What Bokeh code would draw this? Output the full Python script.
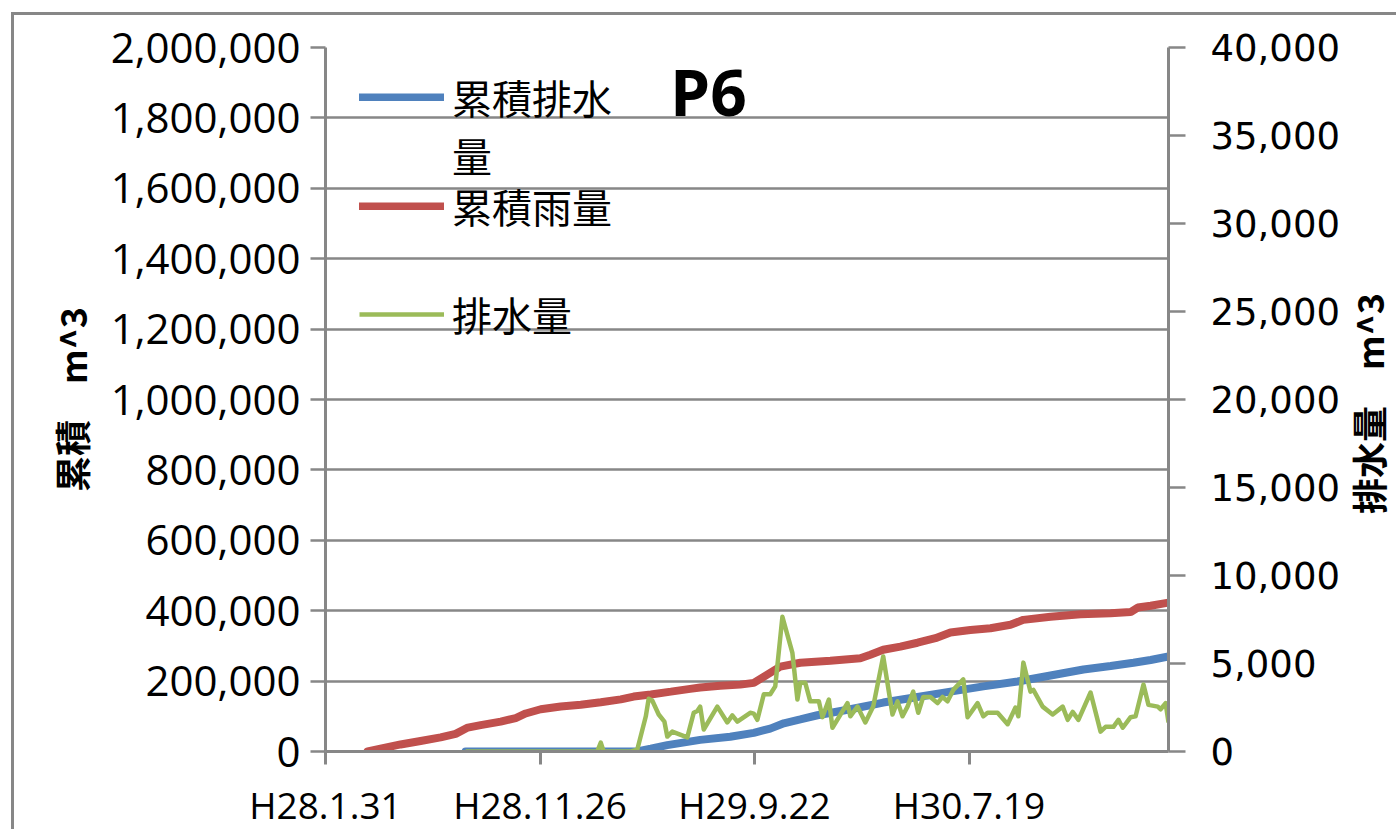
import math
import pandas as pd
from bokeh.plotting import figure
from bokeh.models import (Range1d, LinearAxis, FixedTicker, SingleIntervalTicker,
                          NumeralTickFormatter, Legend, LegendItem, Label)
from bokeh.embed import file_html
from bokeh.resources import INLINE

# Day counts are measured from H28.1.31 (2016-01-31)
BASE_DATE = "2016-01-31"

# 累積雨量 (cumulative rainfall, m^3)
rain_days = [59, 77, 105, 133, 161, 182, 199, 217, 245, 266,
             280, 301, 329, 357, 385, 413, 431, 455, 483, 510,
             524, 552, 580, 599, 615, 636, 664, 706, 748, 762,
             780, 804, 828, 853, 874, 902, 930, 958, 976, 1014,
             1056, 1098, 1126, 1136, 1154, 1179]
rain_cum = [0, 8000, 20000, 30000, 40000, 50000, 68000, 75000, 85000, 95000,
            108000, 120000, 128000, 133000, 140000, 148000, 156000, 162000, 170000, 178000,
            182000, 187000, 190000, 195000, 215000, 241000, 252000, 258000, 265000, 275000,
            289000, 298000, 309000, 322000, 338000, 345000, 350000, 360000, 374000, 383000,
            390000, 393000, 396000, 409000, 414000, 423000]

# 累積排水量 (cumulative drainage, m^3)
drain_cum_days = [196, 436, 455, 478, 524, 566, 599, 622, 641, 664,
                  688, 734, 780, 828, 874, 920, 968, 1014, 1060, 1098,
                  1130, 1154, 1179]
drain_cum = [0, 0, 8000, 18000, 33000, 42000, 53000, 65000, 80000, 91000,
             103000, 120000, 139000, 155000, 170000, 185000, 199000, 216000, 233000, 243000,
             252000, 260000, 270000]

# 排水量 (drainage per period, m^3, right axis)
drain_days = [196, 380, 385, 389, 427, 436, 448, 452, 457, 466,
              474, 478, 485, 506, 515, 520, 524, 529, 548, 562,
              569, 576, 594, 599, 604, 613, 622, 629, 639, 653,
              660, 664, 671, 678, 690, 695, 704, 709, 730, 734,
              744, 755, 766, 780, 793, 800, 807, 814, 822, 829,
              836, 846, 856, 863, 870, 878, 892, 898, 912, 920,
              926, 940, 954, 965, 969, 976, 986, 990, 1003, 1017,
              1031, 1038, 1045, 1053, 1070, 1084, 1091, 1102, 1109, 1115,
              1126, 1133, 1144, 1151, 1164, 1168, 1175, 1179]
drain = [0, 0, 500, 0, 0, 100, 2000, 3000, 2900, 2100,
         1700, 850, 1130, 800, 2200, 2300, 2550, 1250, 2550, 1650,
         2050, 1700, 2200, 2150, 1800, 3250, 3250, 3700, 7650, 5600,
         2950, 3900, 3900, 2850, 2850, 1950, 2950, 1350, 2750, 2000,
         2550, 1650, 2550, 5400, 2100, 2850, 2000, 2550, 3400, 2200,
         3100, 3100, 2750, 3100, 2850, 3500, 4100, 1950, 2750, 2000,
         2200, 2200, 1550, 2500, 2000, 5050, 3400, 3500, 2550, 2100,
         2550, 1800, 2250, 1800, 3350, 1130, 1400, 1400, 1800, 1350,
         1950, 2000, 3800, 2650, 2550, 2400, 2750, 1650]

tick_dates = ["2016-01-31", "2016-11-26", "2017-09-22", "2018-07-19"]
tick_labels = ["H28.1.31", "H28.11.26", "H29.9.22", "H30.7.19"]

EPOCH = pd.Timestamp("1970-01-01")
MS = pd.Timedelta(milliseconds=1)


def days_to_ms(days):
    t = pd.Timestamp(BASE_DATE) + pd.to_timedelta(days, unit="D")
    return [int(v) for v in (t - EPOCH) // MS]


def dates_to_ms(dates):
    return [int(v) for v in (pd.to_datetime(dates) - EPOCH) // MS]


rain_x = days_to_ms(rain_days)
drain_cum_x = days_to_ms(drain_cum_days)
drain_x = days_to_ms(drain_days)
tick_x = dates_to_ms(tick_dates)

GREY = "#878787"
BLUE = "#4F81BD"
RED = "#C0504D"
GREEN = "#9BBB59"
NUM_FONT = "Open Sans"
CJK_FONT = "Noto Sans CJK JP"

p = figure(width=1385, height=817, output_backend="svg", toolbar_location=None,
           x_range=Range1d(dates_to_ms([BASE_DATE])[0], max(rain_x)),
           y_range=Range1d(0, 2_000_000),
           min_border_left=311, min_border_right=231,
           min_border_top=32, min_border_bottom=80)
p.outline_line_color = None
p.background_fill_color = "white"
p.border_fill_color = "white"
# chart-area border along the top and left edges
p.styles = {"margin-left": "11px", "margin-top": "12px",
            "border-left": f"3px solid {GREY}", "border-top": f"3px solid {GREY}"}

p.extra_y_ranges = {"flow": Range1d(0, 40_000)}

# horizontal gridlines only
p.xgrid.visible = False
p.ygrid.grid_line_color = GREY
p.ygrid.grid_line_width = 2.5

# bottom date axis
xa = p.xaxis[0]
xa.ticker = FixedTicker(ticks=tick_x)
xa.major_label_overrides = dict(zip(tick_x, tick_labels))
xa.axis_line_color = GREY
xa.axis_line_width = 3
xa.major_tick_line_color = GREY
xa.major_tick_line_width = 3
xa.major_tick_out = 13
xa.major_tick_in = 0
xa.minor_tick_line_color = None
xa.major_label_standoff = 14
xa.major_label_text_font = NUM_FONT
xa.major_label_text_font_size = "37px"
xa.major_label_text_color = "black"

# left axis: cumulative volumes
ya = p.yaxis[0]
ya.ticker = SingleIntervalTicker(interval=200_000)
ya.formatter = NumeralTickFormatter(format="0,0")
ya.axis_line_color = GREY
ya.axis_line_width = 3
ya.major_tick_line_color = GREY
ya.major_tick_line_width = 2.5
ya.major_tick_out = 15
ya.major_tick_in = 0
ya.minor_tick_line_color = None
ya.major_label_standoff = 10
ya.major_label_text_font = NUM_FONT
ya.major_label_text_font_size = "42px"
ya.major_label_text_color = "black"
ya.axis_label = "累積　m^3"
ya.axis_label_text_font = CJK_FONT
ya.axis_label_text_font_style = "bold"
ya.axis_label_text_font_size = "36px"
ya.axis_label_text_color = "black"
ya.axis_label_standoff = 11

# right axis: drainage
ra = LinearAxis(y_range_name="flow", ticker=SingleIntervalTicker(interval=5_000),
                formatter=NumeralTickFormatter(format="0,0"))
ra.axis_line_color = GREY
ra.axis_line_width = 3
ra.major_tick_line_color = GREY
ra.major_tick_line_width = 2.5
ra.major_tick_out = 17
ra.major_tick_in = 0
ra.minor_tick_line_color = None
ra.major_label_standoff = 25
ra.major_label_text_font = "DejaVu Sans"
ra.major_label_text_font_size = "37px"
ra.major_label_text_color = "black"
p.add_layout(ra, "right")

# right-axis title, reading bottom to top like the left one
p.add_layout(Label(x=1350, y=385, x_units="canvas", y_units="canvas",
                   text="排水量　m^3", angle=math.pi / 2,
                   text_font=CJK_FONT, text_font_style="bold", text_font_size="36px",
                   text_align="center", text_baseline="middle", text_color="black"),
             "right")

r_drain_cum = p.line(drain_cum_x, drain_cum, line_color=BLUE, line_width=8, line_cap="round")
r_rain = p.line(rain_x, rain_cum, line_color=RED, line_width=8, line_cap="round")
r_drain = p.line(drain_x, drain, y_range_name="flow", line_color=GREEN, line_width=4.5,
                 line_join="round")

# one legend block per series so each entry sits at its own height
legend_entries = [("\n累積排水\n量", r_drain_cum, 564),
                  ("累積雨量", r_rain, 455),
                  ("排水量", r_drain, 347)]
for label, renderer, bottom in legend_entries:
    p.add_layout(Legend(items=[LegendItem(label=label, renderers=[renderer])],
                        location=(34, bottom), orientation="vertical",
                        background_fill_alpha=0, border_line_alpha=0,
                        label_text_font=CJK_FONT, label_text_font_size="40px",
                        label_text_color="black", label_text_line_height=1.07,
                        glyph_width=85, glyph_height=8, label_standoff=8,
                        label_height=180, spacing=0, padding=0, margin=0))

title = Label(x=383, y=660, x_units="screen", y_units="screen", text="P6",
              text_font=NUM_FONT, text_font_style="bold", text_font_size="64px",
              text_align="center", text_baseline="middle", text_color="black")
p.add_layout(title)

open("out.html", "w").write(file_html(p, INLINE))
